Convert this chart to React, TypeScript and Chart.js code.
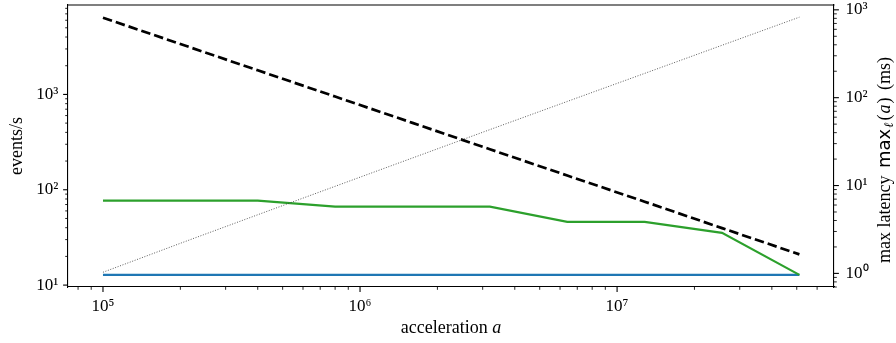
import React, { useEffect, useRef } from 'react';
import { Chart, registerables } from 'chart.js';

Chart.register(...registerables);

// ---- data ----
const acceleration = [1e5, 2e5, 4e5, 8e5, 1.6e6, 3.2e6, 6.4e6, 1.28e7, 2.56e7, 5.12e7];
const eventsBlue = [12.8, 12.8, 12.8, 12.8, 12.8, 12.8, 12.8, 12.8, 12.8, 12.8];
const eventsGreen = [76.8, 76.8, 76.8, 66.5, 66.5, 66.5, 46, 46, 35.3, 12.8];
const eventsDashed = [6380, 3380, 1790, 950, 503, 266, 141, 75, 39.6, 21];
const maxLatency = [1.03, 2.2, 4.65, 9.8, 20.6, 43.3, 90.6, 189, 395, 825];

const xRange = [73100, 6.98e7];
const yLeftRange = [9.55, 8670];
const yRightRange = [0.738, 1135];

const SERIF = '"Liberation Serif", "Times New Roman", serif';
const SANS = '"DejaVu Sans", sans-serif';
const FONT_SIZE = 17;
const TITLE_SIZE = 18;
const SUP = '⁰¹²³⁴⁵⁶⁷⁸⁹';

function isPow10(v: number) {
  const l = Math.log10(v);
  return Math.abs(l - Math.round(l)) < 1e-6;
}
function isDecadeMultiple(v: number) {
  const e = Math.floor(Math.log10(v) + 1e-9);
  const m = v / Math.pow(10, e);
  return Math.abs(m - Math.round(m)) < 1e-6;
}
function powLabel(v: number) {
  if (!isPow10(v)) return '';
  const n = Math.round(Math.log10(v));
  return '10' + String(n).split('').map((d) => SUP[+d]).join('');
}

type Seg = { text: string; font: string; dy?: number; gap?: number };
function drawSegs(ctx: CanvasRenderingContext2D, segs: Seg[], cx: number, baseline: number) {
  let total = 0;
  const widths = segs.map((s) => {
    ctx.font = s.font;
    const w = ctx.measureText(s.text).width + (s.gap || 0);
    total += w;
    return w;
  });
  let x = cx - total / 2;
  ctx.textBaseline = 'alphabetic';
  ctx.textAlign = 'left';
  segs.forEach((s, i) => {
    ctx.font = s.font;
    ctx.fillText(s.text, x, baseline + (s.dy || 0));
    x += widths[i];
  });
}

const mplPlugin = {
  id: 'mplDecor',
  afterDraw(chart: any) {
    const ctx: CanvasRenderingContext2D = chart.ctx;
    const ca = chart.chartArea;
    ctx.save();
    ctx.strokeStyle = '#000';
    ctx.fillStyle = '#000';
    // top spine
    ctx.lineWidth = 1.1;
    ctx.beginPath();
    ctx.moveTo(ca.left - 0.5, ca.top);
    ctx.lineTo(ca.right + 0.5, ca.top);
    ctx.stroke();

    const drawTicks = (scale: any, side: string) => {
      for (const t of scale.ticks) {
        const v = t.value;
        if (!isDecadeMultiple(v)) continue;
        const major = isPow10(v);
        const len = major ? 4.9 : 2.8;
        ctx.lineWidth = major ? 1.1 : 0.85;
        const p = scale.getPixelForValue(v);
        ctx.beginPath();
        if (side === 'bottom') {
          if (p < ca.left - 0.5 || p > ca.right + 0.5) continue;
          ctx.moveTo(p, ca.bottom);
          ctx.lineTo(p, ca.bottom + len);
        } else if (side === 'left') {
          if (p < ca.top - 0.5 || p > ca.bottom + 0.5) continue;
          ctx.moveTo(ca.left, p);
          ctx.lineTo(ca.left - len, p);
        } else {
          if (p < ca.top - 0.5 || p > ca.bottom + 0.5) continue;
          ctx.moveTo(ca.right, p);
          ctx.lineTo(ca.right + len, p);
        }
        ctx.stroke();
      }
    };
    drawTicks(chart.scales.x, 'bottom');
    drawTicks(chart.scales.y, 'left');
    drawTicks(chart.scales.y2, 'right');

    const reg = `${TITLE_SIZE}px ${SERIF}`;
    const ital = `italic ${TITLE_SIZE}px ${SERIF}`;
    const small = `italic ${Math.round(TITLE_SIZE * 0.72)}px ${SERIF}`;
    const sans = `${TITLE_SIZE}px ${SANS}`;

    // x title
    drawSegs(ctx, [
      { text: 'acceleration ', font: reg },
      { text: 'a', font: ital },
    ], (ca.left + ca.right) / 2, 333);

    // left title
    ctx.save();
    ctx.translate(22, (ca.top + ca.bottom) / 2);
    ctx.rotate(-Math.PI / 2);
    drawSegs(ctx, [{ text: 'events/s', font: reg }], 0, 0);
    ctx.restore();

    // right title
    ctx.save();
    ctx.translate(890, (ca.top + ca.bottom) / 2 + 14);
    ctx.rotate(-Math.PI / 2);
    drawSegs(ctx, [
      { text: 'max latency ', font: reg, gap: 3 },
      { text: 'max', font: sans, gap: 1 },
      { text: 'ℓ', font: small, dy: 3, gap: 2 },
      { text: '(', font: reg, gap: 1 },
      { text: 'a', font: ital, gap: 1 },
      { text: ')', font: reg, gap: 3 },
      { text: ' (ms)', font: reg },
    ], 0, 0);
    ctx.restore();

    ctx.restore();
  },
};

function decadeTicks(scale: any) {
  const ticks: { value: number }[] = [];
  const lo = Math.floor(Math.log10(scale.min));
  const hi = Math.ceil(Math.log10(scale.max));
  for (let e = lo; e <= hi; e++) {
    for (let m = 1; m <= 9; m++) {
      const v = m * Math.pow(10, e);
      if (v >= scale.min && v <= scale.max) ticks.push({ value: v });
    }
  }
  scale.ticks = ticks;
}

function logAxis(position: string, range: number[], fit: (s: any) => void, padding: number) {
  return {
    type: 'logarithmic',
    position,
    min: range[0],
    max: range[1],
    grid: { drawOnChartArea: false, drawTicks: false },
    border: { display: true, color: '#000', width: 1.1 },
    ticks: {
      autoSkip: false,
      maxRotation: 0,
      minRotation: 0,
      padding,
      color: '#000',
      font: { family: SERIF, size: FONT_SIZE },
      callback: (v: any) => powLabel(Number(v)),
    },
    afterBuildTicks: decadeTicks,
    afterFit: (s: any) => {
      fit(s);
      s.paddingTop = 0;
      s.paddingBottom = 0;
      s.paddingLeft = 0;
      s.paddingRight = 0;
    },
  };
}

export default function App() {
  const ref = useRef<HTMLCanvasElement | null>(null);
  useEffect(() => {
    if (!ref.current) return;
    const pts = (arr: number[]) => acceleration.map((x, i) => ({ x, y: arr[i] }));
    const chart = new Chart(ref.current, {
      type: 'line',
      data: {
        datasets: [
          {
            data: pts(maxLatency), yAxisID: 'y2', borderColor: '#333', borderWidth: 0.8,
            borderDash: [1, 1.6], order: 0,
          },
          {
            data: pts(eventsDashed), yAxisID: 'y', borderColor: '#000', borderWidth: 2.7,
            borderDash: [9.5, 4], order: 1,
          },
          { data: pts(eventsGreen), yAxisID: 'y', borderColor: '#2ca02c', borderWidth: 2.2, order: 2 },
          { data: pts(eventsBlue), yAxisID: 'y', borderColor: '#1f77b4', borderWidth: 2.2, order: 3 },
        ],
      } as any,
      options: {
        animation: false,
        responsive: false,
        devicePixelRatio: 1,
        layout: { padding: { top: 5, left: 0, right: 0, bottom: 0 } },
        plugins: { legend: { display: false }, tooltip: { enabled: false } },
        elements: { point: { radius: 0 }, line: { tension: 0, fill: false } },
        scales: {
          x: logAxis('bottom', xRange, (s: any) => { s.height = 56; }, 9),
          y: logAxis('left', yLeftRange, (s: any) => { s.width = 68; }, 9.7),
          y2: logAxis('right', yRightRange, (s: any) => { s.width = 62; }, 11.5),
        },
      } as any,
      plugins: [mplPlugin],
    });
    return () => chart.destroy();
  }, []);
  return (
    <div style={{ position: 'absolute', left: 0, top: 0, width: 896, height: 343, background: '#fff' }}>
      <canvas ref={ref} width={896} height={343} style={{ display: 'block' }} />
    </div>
  );
}
